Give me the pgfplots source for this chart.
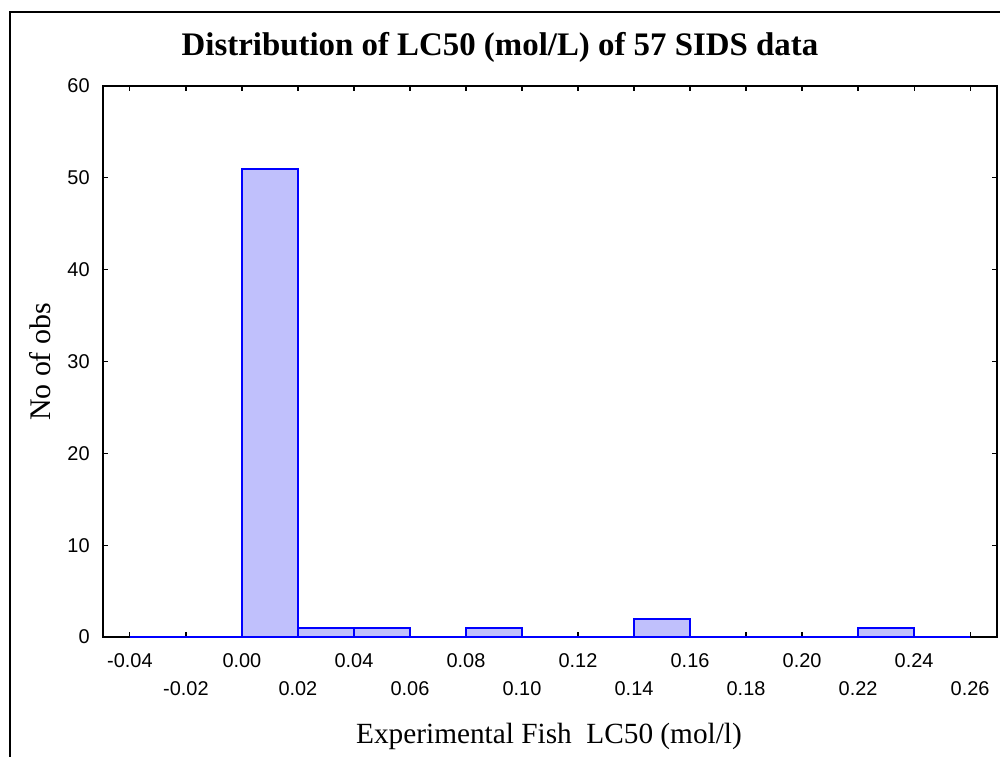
\documentclass[border=0pt]{standalone}
\usepackage{fontspec}
\setmainfont{Liberation Serif}
\newfontfamily\arialfont{Liberation Sans}
\usepackage{pgfplots}
\pgfplotsset{compat=1.18}
\definecolor{barfill}{RGB}{192,192,252}
\definecolor{barline}{RGB}{0,0,255}
\begin{document}
\begin{tikzpicture}
\begin{axis}[
  at={(0,0)}, anchor=south west, scale only axis,
  width=447bp, height=275.5bp,
  xmin=-0.0496, xmax=0.2696, ymin=0, ymax=60,
  axis line style={line width=0.7bp},
  tick align=inside, major tick length=2.5bp,
  tick style={black, line width=0.6bp},
  xtick={-0.04,-0.02,0,0.02,0.04,0.06,0.08,0.10,0.12,0.14,0.16,0.18,0.20,0.22,0.24,0.26},
  xticklabels={-0.04,\raisebox{-14bp}{-0.02},0.00,\raisebox{-14bp}{0.02},0.04,\raisebox{-14bp}{0.06},0.08,\raisebox{-14bp}{0.10},0.12,\raisebox{-14bp}{0.14},0.16,\raisebox{-14bp}{0.18},0.20,\raisebox{-14bp}{0.22},0.24,\raisebox{-14bp}{0.26}},
  xticklabel style={anchor=base, yshift=-15bp, inner sep=0pt, font=\fontsize{10}{12}\selectfont\arialfont},
  ytick={0,10,20,30,40,50,60},
  yticklabel style={anchor=east, inner sep=0pt, xshift=-6.5bp, font=\fontsize{10}{12}\selectfont\arialfont},
  /pgf/number format/assume math mode=true,
]
\addplot[ybar interval, fill=barfill, draw=barline, line width=1bp] coordinates {
(-0.04,0) (-0.02,0) (0.00,51) (0.02,1) (0.04,1) (0.06,0) (0.08,1) (0.10,0)
(0.12,0) (0.14,2) (0.16,0) (0.18,0) (0.20,0) (0.22,1) (0.24,0) (0.26,0)
};
\end{axis}
\draw[line width=1bp] (-46.5bp,-62bp) -- (-46.5bp,312.5bp) -- (450bp,312.5bp);
\node[anchor=base, font=\bfseries\fontsize{16.5}{18}\selectfont] at (198.5bp,290.5bp) {Distribution of LC50 (mol/L) of 57 SIDS data};
\node[anchor=base, font=\fontsize{14.7}{16}\selectfont] at (223bp,-53bp) {Experimental Fish\ \ LC50 (mol/l)};
\node[anchor=base, rotate=90, font=\fontsize{15}{17}\selectfont] at (-26.5bp,137.5bp) {No of obs};
\pgfresetboundingbox
\useasboundingbox (-51.5bp,-60bp) rectangle (448.5bp,318.5bp);
\end{tikzpicture}
\end{document}
